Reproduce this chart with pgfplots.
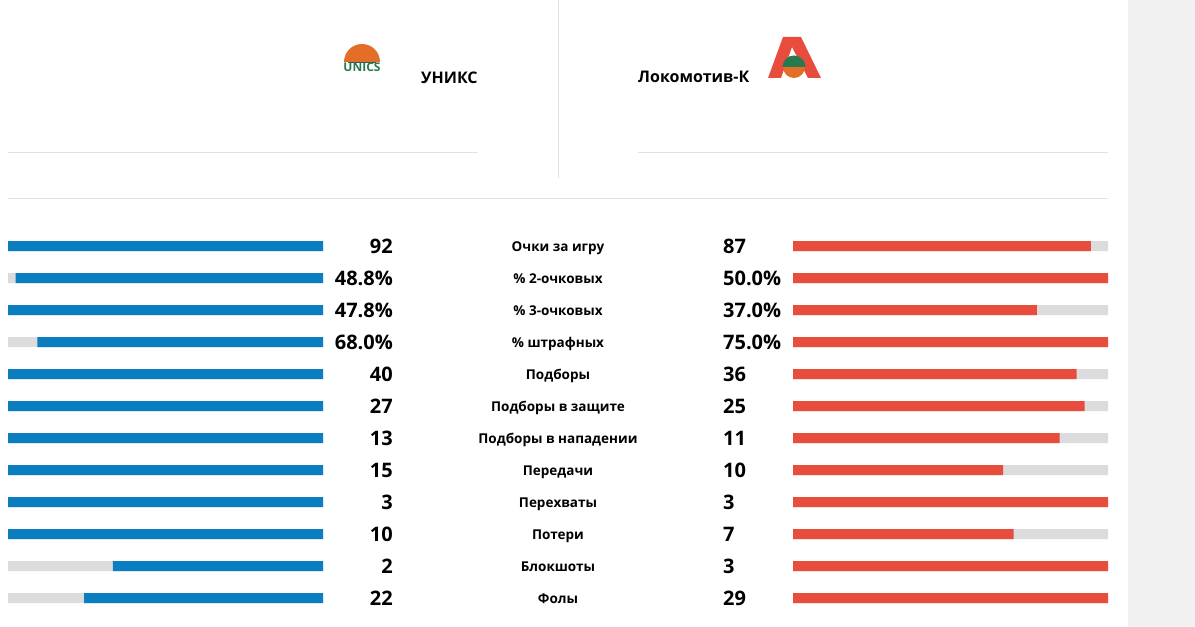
\documentclass[border=0pt]{standalone}
\usepackage{pgfplots}
\pgfplotsset{compat=1.18}
\usepackage{fontspec}
\setmainfont{Open Sans}
\definecolor{cblue}{RGB}{10,126,192}
\definecolor{cred}{RGB}{232,76,61}
\definecolor{cgray}{RGB}{220,220,222}
\definecolor{cline}{RGB}{226,226,226}
\definecolor{cstrip}{RGB}{241,241,241}
\definecolor{corange}{RGB}{226,110,40}
\definecolor{cgreen}{RGB}{40,120,80}
\newcommand{\numf}{\fontsize{20bp}{24bp}\selectfont\bfseries}
\newcommand{\labf}{\fontsize{13.5bp}{16bp}\selectfont\bfseries}
\begin{document}
\begin{tikzpicture}[x=1bp,y=1bp]
\useasboundingbox (0,-627) rectangle (1195,0);
\fill[white] (0,-627) rectangle (1195,0);
\fill[cstrip] (1128,-627) rectangle (1195,0);
% separator lines
\draw[cline,line width=1bp] (8,-153) -- (478,-153);
\draw[cline,line width=1bp] (638,-153) -- (1108,-153);
\draw[cline,line width=1bp] (558,0) -- (558,-178);
\draw[cline,line width=1bp] (8,-199) -- (1108,-199);
% UNICS logo (approximation)
\begin{scope}
\clip (343,-62) rectangle (381,-40);
\fill[corange] (362,-62) circle (18);
\end{scope}
\draw[black!70,line width=0.5bp] (348,-62) -- (376,-62);
\node[font=\fontsize{12bp}{12bp}\selectfont\bfseries,text=cgreen,inner sep=0] at (362,-67) {UNICS};
\node[font=\fontsize{16bp}{18bp}\selectfont\bfseries,anchor=base west,inner sep=0] at (421,-83.5) {УНИКС};
% Lokomotiv logo (approximation)
\fill[cred] (768,-78) -- (783,-37) -- (801,-37) -- (821,-78) -- (808,-78) -- (792,-47) -- (781,-78) -- cycle;
\fill[corange] (794,-67) circle (11);
\begin{scope}
\clip (782,-67) rectangle (806,-54);
\fill[cgreen] (794,-67) circle (11.5);
\end{scope}
\node[font=\fontsize{16bp}{18bp}\selectfont\bfseries,anchor=base west,inner sep=0] at (638,-83) {Локомотив-К};
% left bars
\begin{axis}[at={(8bp,-614bp)},anchor=south west,scale only axis,
  width=315bp,height=384bp,xmin=-1,xmax=0,ymin=-0.5,ymax=11.5,
  y dir=reverse,hide axis,clip=false]
\addplot[xbar,bar width=10bp,bar shift=0pt,fill=cgray,draw=none] coordinates {
(-1,0) (-1,1) (-1,2) (-1,3) (-1,4) (-1,5) (-1,6) (-1,7) (-1,8) (-1,9) (-1,10) (-1,11)};
\addplot[xbar,bar width=10bp,bar shift=0pt,fill=cblue,draw=none] coordinates {
(-1,0) (-0.976,1) (-1,2) (-0.9067,3) (-1,4) (-1,5) (-1,6) (-1,7) (-1,8) (-1,9) (-0.6667,10) (-0.7586,11)};
% left numbers
\begin{scope}[every node/.style={anchor=east,inner sep=0,font=\numf}]
\node at (axis cs:0.2222,0) {92};
\node at (axis cs:0.2222,1) {48.8\%};
\node at (axis cs:0.2222,2) {47.8\%};
\node at (axis cs:0.2222,3) {68.0\%};
\node at (axis cs:0.2222,4) {40};
\node at (axis cs:0.2222,5) {27};
\node at (axis cs:0.2222,6) {13};
\node at (axis cs:0.2222,7) {15};
\node at (axis cs:0.2222,8) {3};
\node at (axis cs:0.2222,9) {10};
\node at (axis cs:0.2222,10) {2};
\node at (axis cs:0.2222,11) {22};
\end{scope}
% category labels
\begin{scope}[every node/.style={anchor=base,inner sep=0,font=\labf,yshift=-5.8bp}]
\node at (axis cs:0.746,0) {Очки за игру};
\node at (axis cs:0.746,1) {\% 2-очковых};
\node at (axis cs:0.746,2) {\% 3-очковых};
\node at (axis cs:0.746,3) {\% штрафных};
\node at (axis cs:0.746,4) {Подборы};
\node at (axis cs:0.746,5) {Подборы в защите};
\node at (axis cs:0.746,6) {Подборы в нападении};
\node at (axis cs:0.746,7) {Передачи};
\node at (axis cs:0.746,8) {Перехваты};
\node at (axis cs:0.746,9) {Потери};
\node at (axis cs:0.746,10) {Блокшоты};
\node at (axis cs:0.746,11) {Фолы};
\end{scope}
% right numbers
\begin{scope}[every node/.style={anchor=west,inner sep=0,font=\numf}]
\node at (axis cs:1.2698,0) {87};
\node at (axis cs:1.2698,1) {50.0\%};
\node at (axis cs:1.2698,2) {37.0\%};
\node at (axis cs:1.2698,3) {75.0\%};
\node at (axis cs:1.2698,4) {36};
\node at (axis cs:1.2698,5) {25};
\node at (axis cs:1.2698,6) {11};
\node at (axis cs:1.2698,7) {10};
\node at (axis cs:1.2698,8) {3};
\node at (axis cs:1.2698,9) {7};
\node at (axis cs:1.2698,10) {3};
\node at (axis cs:1.2698,11) {29};
\end{scope}
\end{axis}
% right bars
\begin{axis}[at={(793bp,-614bp)},anchor=south west,scale only axis,
  width=315bp,height=384bp,xmin=0,xmax=1,ymin=-0.5,ymax=11.5,
  y dir=reverse,hide axis]
\addplot[xbar,bar width=10bp,bar shift=0pt,fill=cgray,draw=none] coordinates {
(1,0) (1,1) (1,2) (1,3) (1,4) (1,5) (1,6) (1,7) (1,8) (1,9) (1,10) (1,11)};
\addplot[xbar,bar width=10bp,bar shift=0pt,fill=cred,draw=none] coordinates {
(0.9457,0) (1,1) (0.7741,2) (1,3) (0.9,4) (0.9259,5) (0.8462,6) (0.6667,7) (1,8) (0.7,9) (1,10) (1,11)};
\end{axis}
\end{tikzpicture}
\end{document}
